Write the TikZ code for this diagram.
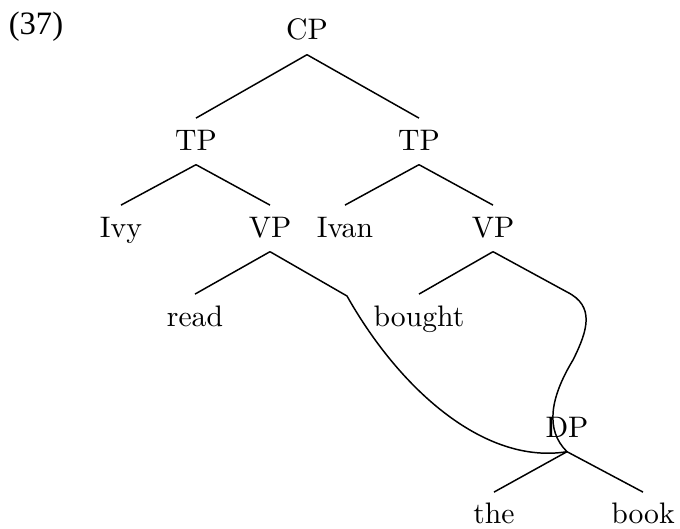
\documentclass[tikz,border=0pt]{standalone}
\usepackage{fontspec}
\newfontfamily\exfont{Liberation Serif}
\usepackage{tikz}
\tikzset{lbl/.style={anchor=base, inner xsep=0pt, inner ysep=2.7pt, text height=7.8pt, text depth=2pt}}

\begin{document}
\begin{tikzpicture}
[x=0.337pt, y=-0.337pt, every path/.style={line width=0.5pt}]
\useasboundingbox (0,0) rectangle (680,529);
\node (ex) at (36,35)[anchor=base]{\exfont\fontsize{11}{13}\selectfont (37)};
\node (CP) at (307,40)[lbl]{CP};
\node (TPl) at (196,150)[lbl]{TP};
\node (TPr) at (419,150)[lbl]{TP};
\node (Ivy) at (121,237)[lbl]{Ivy};
\node (VPl) at (270,237)[lbl]{VP};
\node (Ivan) at (345,237)[lbl]{Ivan};
\node (VPr) at (493,237)[lbl]{VP};
\node (read) at (195,326)[lbl]{read};
\node (bought) at (419,326)[lbl]{bought};
\coordinate (gapl) at (347,296);
\coordinate (gapr) at (567,292);
\node (DP) at (567,437)[lbl]{DP};
\node (the) at (494,524)[lbl]{the};
\node (book) at (643,524)[lbl]{book};

\draw (CP.south) -- (TPl.north);
\draw (CP.south) -- (TPr.north);
\draw (TPl.south) -- (Ivy.north);
\draw (TPl.south) -- (VPl.north);
\draw (TPr.south) -- (Ivan.north);
\draw (TPr.south) -- (VPr.north);
\draw (VPl.south) -- (read.north);
\draw (VPr.south) -- (bought.north);
\draw (DP.south) -- (the.north);
\draw (DP.south) -- (book.north);
% moved object
\draw (VPl.south) -- (gapl) .. controls (400,390) and (485,465) .. (DP.south);
\draw (VPr.south) -- (gapr) .. controls (595,306) and (588,330) .. (573,360)
  .. controls (550,398) and (545,430) .. (DP.south);
\end{tikzpicture}
\end{document}
